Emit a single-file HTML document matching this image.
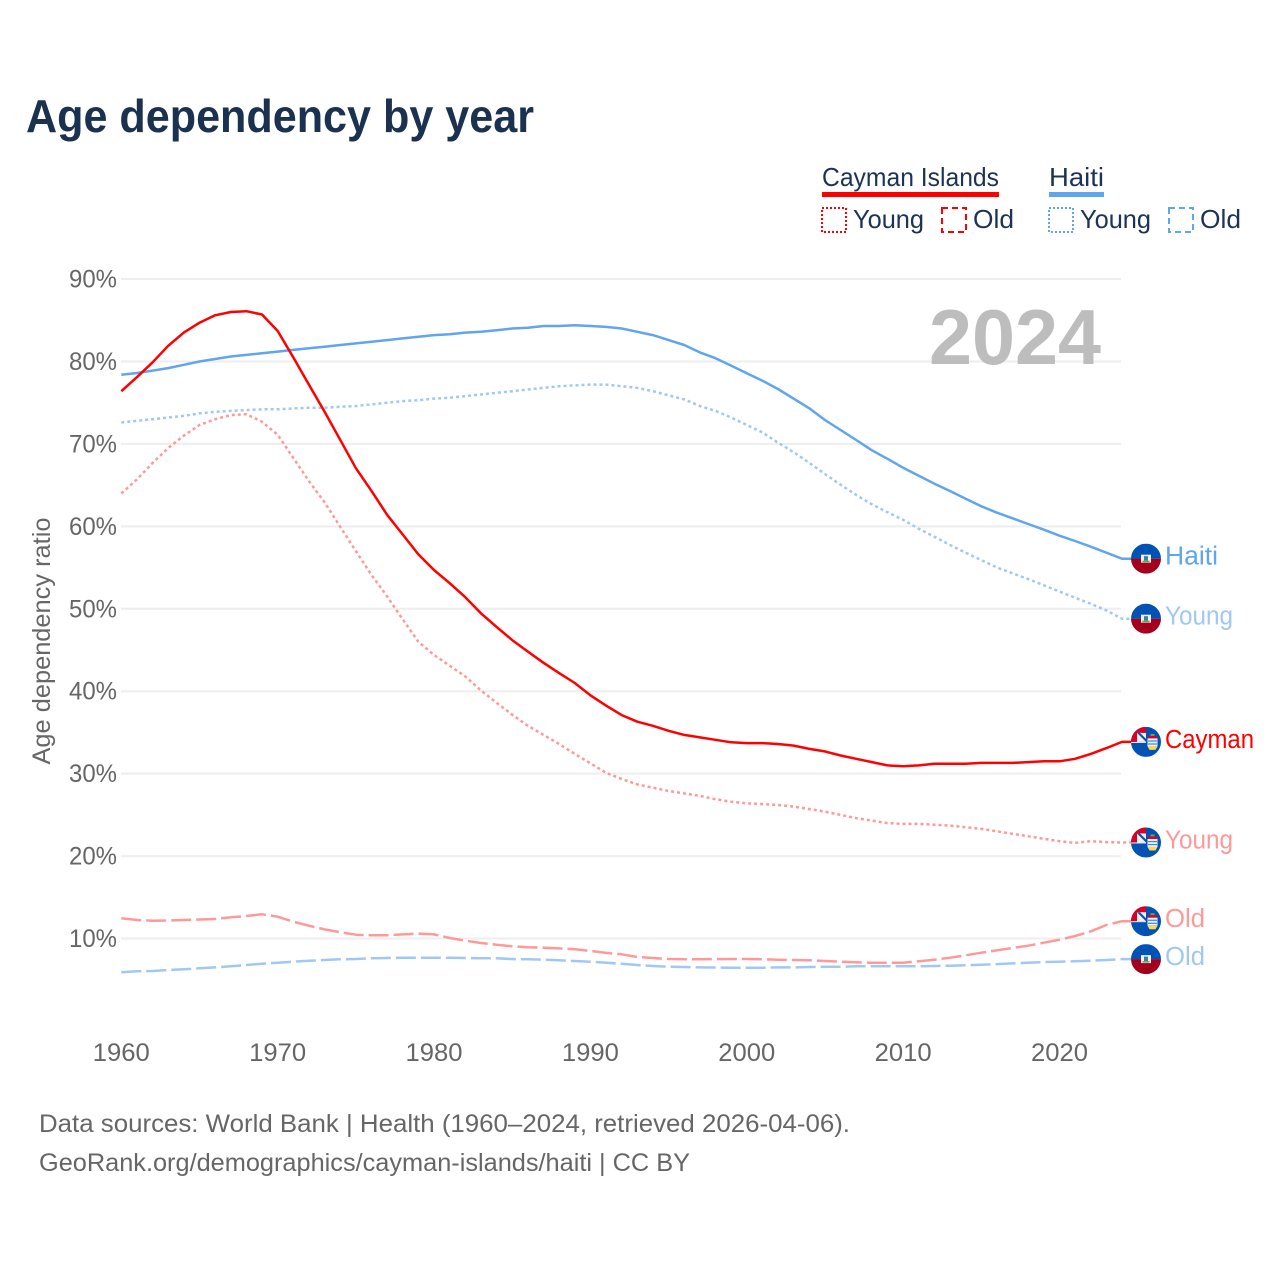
<!DOCTYPE html>
<html lang="en">
<head>
<meta charset="utf-8">
<title>Age dependency by year</title>
<style>
html,body{margin:0;padding:0;background:#fff}
svg{display:block}
text{font-family:"Liberation Sans",sans-serif}
</style>
</head>
<body>
<svg id="chart" xmlns="http://www.w3.org/2000/svg" width="1280" height="1280" viewBox="0 0 1280 1280">
<rect width="1280" height="1280" fill="#fff"/>
<text x="26" y="132" font-size="46" font-weight="700" fill="#1a3150" textLength="508" lengthAdjust="spacingAndGlyphs">Age dependency by year</text>

<g font-size="26" fill="#1b3357">
<text x="822" y="186" textLength="177" lengthAdjust="spacingAndGlyphs">Cayman Islands</text>
<rect x="822" y="192" width="177" height="5" fill="#ff0000"/>
<rect x="822" y="208" width="24" height="24" fill="none" stroke="#ff0000" stroke-width="2" stroke-dasharray="2 2"/>
<text x="853" y="228" textLength="71" lengthAdjust="spacingAndGlyphs">Young</text>
<rect x="942" y="208" width="24" height="24" fill="none" stroke="#ff0000" stroke-width="2" stroke-dasharray="6 4"/>
<text x="973" y="228" textLength="41" lengthAdjust="spacingAndGlyphs">Old</text>
<text x="1049" y="186" textLength="55" lengthAdjust="spacingAndGlyphs">Haiti</text>
<rect x="1049" y="192" width="55" height="5" fill="#60a5ee"/>
<rect x="1049" y="208" width="24" height="24" fill="none" stroke="#60a5ee" stroke-width="2" stroke-dasharray="2 2"/>
<text x="1080" y="228" textLength="71" lengthAdjust="spacingAndGlyphs">Young</text>
<rect x="1169" y="208" width="24" height="24" fill="none" stroke="#60a5ee" stroke-width="2" stroke-dasharray="6 4"/>
<text x="1200" y="228" textLength="41" lengthAdjust="spacingAndGlyphs">Old</text>
</g>

<g id="grid"></g>
<g id="yticks"></g>
<g id="xticks"></g>
<text transform="translate(50,641) rotate(-90)" text-anchor="middle" font-size="25" fill="#666" textLength="247" lengthAdjust="spacingAndGlyphs">Age dependency ratio</text>
<text x="1101" y="364" text-anchor="end" font-size="78" font-weight="700" fill="#bdbdbd" textLength="172" lengthAdjust="spacingAndGlyphs">2024</text>
<g id="lines"></g>
<g id="flags"></g>

<g font-size="25" fill="#666">
<text x="39" y="1132" textLength="811" lengthAdjust="spacingAndGlyphs">Data sources: World Bank | Health (1960–2024, retrieved 2026-04-06).</text>
<text x="39" y="1171" textLength="651" lengthAdjust="spacingAndGlyphs">GeoRank.org/demographics/cayman-islands/haiti | CC BY</text>
</g>
</svg>
<script>
const firstYear = 1960;
const yTickValues = [10, 20, 30, 40, 50, 60, 70, 80, 90];
const xTickValues = [1960, 1970, 1980, 1990, 2000, 2010, 2020];
const caymanTotal = [76.4,78.1,79.9,81.9,83.5,84.7,85.6,86.0,86.1,85.7,83.7,80.5,77.2,73.9,70.5,67.05,64.3,61.4,59.0,56.6,54.7,53.1,51.4,49.45,47.8,46.2,44.8,43.45,42.2,41.0,39.5,38.25,37.1,36.3,35.8,35.2,34.7,34.4,34.1,33.8,33.7,33.7,33.6,33.4,33.0,32.7,32.2,31.8,31.4,31.0,30.9,31.0,31.2,31.2,31.2,31.3,31.3,31.3,31.4,31.5,31.5,31.8,32.4,33.1,33.85];
const caymanYoung = [64.0,65.7,67.7,69.5,71.0,72.3,73.0,73.5,73.6,72.7,71.1,68.3,65.5,62.9,59.96,57.0,54.1,51.5,48.7,46.0,44.4,43.1,41.8,40.1,38.6,37.15,35.8,34.7,33.6,32.4,31.25,30.1,29.35,28.7,28.3,27.9,27.6,27.3,26.9,26.6,26.4,26.3,26.2,26.0,25.7,25.4,25.0,24.6,24.3,24.0,23.9,23.9,23.8,23.7,23.5,23.3,23.0,22.7,22.4,22.1,21.8,21.6,21.8,21.7,21.65];
const caymanOld = [12.45,12.25,12.16,12.2,12.25,12.3,12.37,12.57,12.73,12.93,12.65,12.04,11.55,11.1,10.75,10.46,10.4,10.4,10.5,10.6,10.5,10.06,9.73,9.45,9.25,9.05,8.93,8.88,8.8,8.7,8.5,8.25,8.08,7.76,7.63,7.51,7.48,7.48,7.5,7.51,7.51,7.48,7.43,7.39,7.35,7.27,7.19,7.11,7.06,7.06,7.06,7.23,7.43,7.67,7.96,8.28,8.57,8.85,9.13,9.49,9.85,10.3,10.87,11.64,12.1];
const haitiTotal = [78.4,78.6,78.9,79.2,79.6,80.0,80.3,80.6,80.8,81.0,81.2,81.4,81.6,81.8,82.0,82.2,82.4,82.6,82.8,83.0,83.2,83.3,83.5,83.6,83.8,84.0,84.1,84.3,84.3,84.4,84.3,84.2,84.0,83.6,83.2,82.6,82.0,81.1,80.4,79.5,78.57,77.67,76.66,75.48,74.32,72.9,71.69,70.48,69.23,68.2,67.11,66.14,65.17,64.29,63.35,62.43,61.66,60.98,60.29,59.59,58.87,58.22,57.53,56.8,56.08];
const haitiYoung = [72.6,72.8,73.0,73.2,73.4,73.7,73.9,74.0,74.1,74.2,74.2,74.3,74.4,74.4,74.5,74.6,74.8,75.0,75.2,75.3,75.5,75.6,75.8,76.0,76.2,76.4,76.6,76.8,77.0,77.1,77.2,77.2,77.0,76.8,76.4,75.9,75.4,74.6,74.0,73.2,72.3,71.4,70.15,69.0,67.7,66.35,65.05,63.8,62.67,61.7,60.8,59.7,58.75,57.74,56.8,55.9,55.0,54.3,53.6,52.85,52.1,51.35,50.6,49.8,48.8];
const haitiOld = [5.9,6.02,6.06,6.18,6.26,6.38,6.5,6.63,6.79,6.94,7.06,7.19,7.3,7.39,7.48,7.51,7.6,7.63,7.67,7.67,7.67,7.67,7.63,7.6,7.6,7.5,7.48,7.43,7.36,7.27,7.19,7.06,6.94,6.79,6.66,6.58,6.54,6.5,6.48,6.46,6.46,6.46,6.5,6.5,6.54,6.58,6.58,6.63,6.63,6.63,6.63,6.63,6.66,6.7,6.75,6.82,6.9,6.98,7.06,7.14,7.19,7.23,7.3,7.39,7.5];

const NS = 'http://www.w3.org/2000/svg';
const plotLeft = 121, plotRight = 1121;
function xScale(year) { return 121.3 + (year - 1960) * (1059.5 - 121.3) / 60; }
function yScale(v) { return 938.5 - (v - 10) * 8.243; }
function make(tag, attrs, parent) {
  const el = document.createElementNS(NS, tag);
  for (const k in attrs) el.setAttribute(k, attrs[k]);
  parent.appendChild(el);
  return el;
}

const gridG = document.getElementById('grid');
const yG = document.getElementById('yticks');
const xG = document.getElementById('xticks');
yTickValues.forEach(function (v) {
  const line = make('line', { x1: plotLeft, x2: plotRight, y1: yScale(v), y2: yScale(v), stroke: '#eeeeee', 'stroke-width': 2 }, gridG);
  
  
  const t = make('text', { x: 69, y: yScale(v) + 8.5, 'font-size': 25, fill: '#666', textLength: 48, lengthAdjust: 'spacingAndGlyphs' }, yG);
  
  
  t.textContent = v + '%';
});
xTickValues.forEach(function (y) {
  const t = make('text', { x: xScale(y) - 28.5, y: 1061, 'font-size': 25, fill: '#666', textLength: 57, lengthAdjust: 'spacingAndGlyphs' }, xG);
  
  
  t.textContent = y;
});

const linesG = document.getElementById('lines');
function drawLine(values, color, dash, name) {
  const pts = values.map(function (v, i) { return xScale(firstYear + i).toFixed(1) + ',' + yScale(v).toFixed(1); });
  pts.push('1146,' + yScale(values[values.length - 1]).toFixed(1));
  const attrs = { points: pts.join(' '), fill: 'none', stroke: color, 'stroke-width': 2.5, 'stroke-linejoin': 'round' };
  if (dash) attrs['stroke-dasharray'] = dash;
  const p = make('polyline', attrs, linesG);
  
  
}
drawLine(caymanOld, '#ff9999', '20 5', 'line-cayman-old');
drawLine(haitiOld, '#a0c8f4', '20 5', 'line-haiti-old');
drawLine(caymanYoung, '#ff9999', '3 3', 'line-cayman-young');
drawLine(haitiYoung, '#a0c8f4', '3 3', 'line-haiti-young');
drawLine(haitiTotal, '#60a5ee', '', 'line-haiti-total');
drawLine(caymanTotal, '#ff0000', '', 'line-cayman-total');

const flagsG = document.getElementById('flags');
const svgRoot = document.getElementById('chart');
const defs = make('defs', {}, svgRoot);
let clipCount = 0;
function flagClip(cy) {
  const id = 'flag-clip-' + (clipCount++);
  const c = make('clipPath', { id: id }, defs);
  make('circle', { cx: 1146, cy: cy, r: 15 }, c);
  return id;
}
function drawHaitiFlag(cy, name) {
  const g = make('g', { 'clip-path': 'url(#' + flagClip(cy) + ')' }, flagsG);
  
  
  make('rect', { x: 1131, y: cy - 15, width: 30, height: 15, fill: '#0052b4' }, g);
  make('rect', { x: 1131, y: cy, width: 30, height: 15, fill: '#a2001d' }, g);
  make('rect', { x: 1141, y: cy - 4, width: 10, height: 8, fill: '#f0f0f0' }, g);
  make('rect', { x: 1144, y: cy - 2.5, width: 4, height: 4.5, fill: '#3f7f9a' }, g);
  make('rect', { x: 1142.5, y: cy + 2, width: 7, height: 1.5, fill: '#6da544' }, g);
}
function drawCaymanFlag(cy, name) {
  const g = make('g', { 'clip-path': 'url(#' + flagClip(cy) + ')' }, flagsG);
  
  
  make('rect', { x: 1131, y: cy - 15, width: 30, height: 30, fill: '#0052b4' }, g);
  make('rect', { x: 1131, y: cy - 15, width: 15, height: 15, fill: '#d80027' }, g);
  make('rect', { x: 1137, y: cy - 9, width: 9, height: 9, fill: '#f0f0f0' }, g);
  make('polygon', { points: '1137,' + (cy - 9) + ' 1146,' + cy + ' 1146,' + (cy - 3) + ' 1140,' + (cy - 9), fill: '#0052b4' }, g);
  make('rect', { x: 1131, y: cy, width: 15, height: 1, fill: '#f0f0f0' }, g);
  make('rect', { x: 1147.5, y: cy - 6, width: 10, height: 2.5, fill: '#d80027' }, g);
  make('rect', { x: 1147.5, y: cy - 3.5, width: 10, height: 8, fill: '#f0f0f0' }, g);
  make('rect', { x: 1148, y: cy - 1.5, width: 9, height: 1.2, fill: '#338af3' }, g);
  make('rect', { x: 1148, y: cy + 1.5, width: 9, height: 1.2, fill: '#338af3' }, g);
  make('path', { d: 'M1147.5 ' + (cy + 4.5) + 'h10l-2 3.5h-6z', fill: '#ffda44' }, g);
  make('rect', { x: 1150.5, y: cy - 8, width: 4, height: 2, fill: '#6da544' }, g);
}
function drawEndLabel(values, text, color, width, name) {
  const t = make('text', { x: 1165, y: yScale(values[values.length - 1]) + 6, 'font-size': 25.5, fill: color, textLength: width, lengthAdjust: 'spacingAndGlyphs' }, flagsG);
  
  
  t.textContent = text;
}
drawHaitiFlag(yScale(haitiTotal[haitiTotal.length - 1]), 'flag-haiti-total');
drawHaitiFlag(yScale(haitiYoung[haitiYoung.length - 1]), 'flag-haiti-young');
drawCaymanFlag(yScale(caymanTotal[caymanTotal.length - 1]), 'flag-cayman-total');
drawCaymanFlag(yScale(caymanYoung[caymanYoung.length - 1]), 'flag-cayman-young');
drawCaymanFlag(yScale(caymanOld[caymanOld.length - 1]), 'flag-cayman-old');
drawHaitiFlag(yScale(haitiOld[haitiOld.length - 1]), 'flag-haiti-old');
drawEndLabel(haitiTotal, 'Haiti', '#60a5ee', 53, 'end-label-haiti');
drawEndLabel(haitiYoung, 'Young', '#a0c8f4', 68, 'end-label-haiti-young');
drawEndLabel(caymanTotal, 'Cayman', '#ff0000', 89, 'end-label-cayman');
drawEndLabel(caymanYoung, 'Young', '#ff9999', 68, 'end-label-cayman-young');
drawEndLabel(caymanOld, 'Old', '#ff9999', 40, 'end-label-cayman-old');
drawEndLabel(haitiOld, 'Old', '#a0c8f4', 40, 'end-label-haiti-old');
</script>
</body>
</html>
